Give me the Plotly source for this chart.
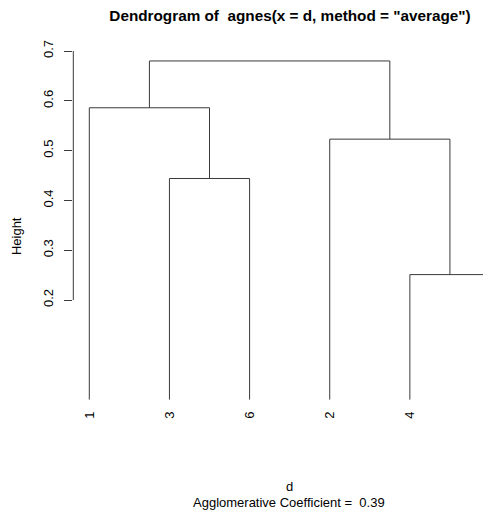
import plotly.graph_objects as go

# ---- data ----
obs_order = [1, 3, 6, 2, 4, 5]            # leaf order along x
leaf_labels = ["1", "3", "6", "2", "4", "5"]
merge_left = [-4, -3, -2, -1, 4]           # R-style merge matrix (neg = observation)
merge_right = [-5, -6, 1, 2, 3]
merge_height = [0.251, 0.444, 0.523, 0.586, 0.680]
y_tick_vals = [0.2, 0.3, 0.4, 0.5, 0.6, 0.7]
y_tick_text = ["0.2", "0.3", "0.4", "0.5", "0.6", "0.7"]
title_text = 'Dendrogram of \u00a0agnes(x = d, method = "average")'
x_label = "d"
sub_text = "Agglomerative Coefficient = \u00a00.39"
y_label = "Height"

# ---- build dendrogram segments ----
W, H = 491, 510
OFF = 8                      # page body margin offset
FW, FH = W - OFF, H - OFF    # figure size
pos = {obs: i + 1 for i, obs in enumerate(obs_order)}
node_x, node_h = [], []


def child(c):
    if c < 0:
        return pos[-c], 0.0
    return node_x[c - 1], node_h[c - 1]


xs, ys = [], []
for l, r, h in zip(merge_left, merge_right, merge_height):
    xl, hl = child(l)
    xr, hr = child(r)
    xs += [xl, xl, xr, xr, None]
    ys += [hl, h, h, hr, None]
    node_x.append((xl + xr) / 2)
    node_h.append(h)


def fx(px):
    return (px - OFF) / FW


def fy(py):
    return 1 - (py - OFF) / FH


FONT = "Liberation Sans, Arial, sans-serif"
LINE = "#3a3a3a"

fig = go.Figure()
fig.add_trace(go.Scatter(x=xs, y=ys, mode="lines",
                         line=dict(color=LINE, width=1),
                         cliponaxis=False,
                         hoverinfo="skip", showlegend=False))

# plot area geometry (window pixels)
left_px, top_px, bot_px = 73.3, 47.0, 426.0
px_per_x = 80.14
x0 = 1 - (89.3 - left_px) / px_per_x
x1 = x0 + (W - left_px) / px_per_x
px_per_y = 498.0
y_top = 0.7 + (51 - top_px) / px_per_y
y_bot = 0.7 - (bot_px - 51) / px_per_y

fig.update_layout(
    width=FW, height=FH,
    margin=dict(l=0, r=0, t=0, b=0),
    paper_bgcolor="white", plot_bgcolor="white",
    font=dict(family=FONT, size=13, color="black"),
    title=dict(text=title_text, x=fx(290), xanchor="center",
               y=fy(16), yanchor="middle", xref="paper", yref="paper",
               font=dict(family=FONT, size=15.3, color="black", weight="bold")),
    xaxis=dict(domain=[fx(left_px), 1], range=[x0, x1],
               showgrid=False, zeroline=False, showline=False,
               tickmode="array", tickvals=list(range(1, len(leaf_labels) + 1)),
               ticktext=leaf_labels, tickangle=-90, ticks="",
               ticklabeloverflow="allow",
               anchor="free", position=fy(408),
               tickfont=dict(family=FONT, size=13, color="black"),
               automargin=False),
    yaxis=dict(domain=[fy(bot_px), fy(top_px)], range=[y_bot, y_top],
               showgrid=False, zeroline=False, showline=False,
               tickmode="array", tickvals=y_tick_vals, ticktext=y_tick_text,
               ticks="outside", ticklen=8, tickwidth=1, tickcolor=LINE,
               tickangle=-90, ticklabelstandoff=6,
               tickfont=dict(family=FONT, size=13, color="black"),
               automargin=False),
)

# axis line spanning the tick range only (R style)
fig.add_shape(type="line", xref="x domain", yref="y",
              x0=0, x1=0, y0=min(y_tick_vals), y1=max(y_tick_vals),
              line=dict(color=LINE, width=1))

fig.add_annotation(text=y_label, x=fx(16.5), y=fy(236.6), xref="paper", yref="paper",
                   xanchor="center", yanchor="middle", textangle=-90, showarrow=False,
                   borderpad=0,
                   font=dict(family=FONT, size=13, color="black"))
fig.add_annotation(text=x_label, x=fx(289), y=fy(486), xref="paper", yref="paper",
                   xanchor="center", yanchor="middle", showarrow=False,
                   font=dict(family=FONT, size=13, color="black"))
fig.add_annotation(text=sub_text, x=fx(289), y=fy(502), xref="paper", yref="paper",
                   xanchor="center", yanchor="middle", showarrow=False,
                   font=dict(family=FONT, size=13, color="black"))

fig.write_html("out.html")
